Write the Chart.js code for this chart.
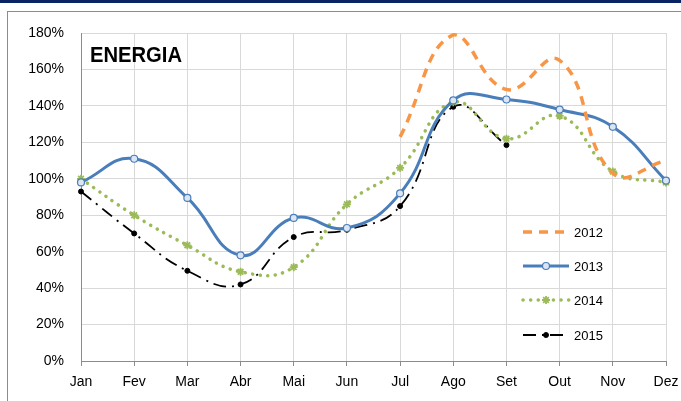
<!DOCTYPE html>
<html>
<head>
<meta charset="utf-8">
<script src="https://cdn.jsdelivr.net/npm/chart.js@4"></script>
<style>
  body { margin: 0; background: #fff; overflow: hidden; }
  #band { position: absolute; left: 0; top: 0; width: 681px; height: 3px; background: #0a2463; }
  #frame { position: absolute; left: 7px; top: 11px; width: 700px; height: 400px;
           border-left: 1px solid #8c8c8c; border-top: 1px solid #8c8c8c; }
  #energyChart { position: absolute; left: 0; top: 0; }
</style>
</head>
<body>
<div id="band"></div>
<div id="frame"></div>
<canvas id="energyChart" width="681" height="401"></canvas>
<script>
var months = ['Jan', 'Fev', 'Mar', 'Abr', 'Mai', 'Jun', 'Jul', 'Ago', 'Set', 'Out', 'Nov', 'Dez'];
var yTicks = [0, 20, 40, 60, 80, 100, 120, 140, 160, 180];

var v2012 = [null, null, null, null, null, null, 123, 179, 149, 165, 103, 110];
var v2013 = [98, 111, 89.5, 58, 78.5, 73, 92, 143, 143.5, 138, 128.5, 99];
var v2014 = [100, 80, 63.5, 49, 51.5, 86, 106, 142, 122, 134.5, 104, 98];
var v2015 = [93, 70, 49.5, 42, 68, 72, 85, 139.5, 118.5, null, null, null];

const colors = {
    y2012: '#f79646',
    y2013: '#4a7ebb',
    y2014: '#9bbb59',
    y2015: '#000000'
};

var labelFont = 'Liberation Sans';

// title + legend drawn inside the plot, like the spreadsheet chart
var overlay = {
    id: 'overlay',
    afterDraw: function(chart) {
        var c = chart.ctx;
        c.save();
        c.fillStyle = '#000';
        c.font = 'bold 22px ' + labelFont;
        c.textBaseline = 'alphabetic';
        c.textAlign = 'left';
        c.fillText('ENERGIA', 90, 62, 92);

        var rows = [232, 266, 300, 335];
        chart.data.datasets.forEach(function(ds, i) {
            var y = rows[i];
            c.save();
            c.strokeStyle = ds.borderColor;
            c.lineWidth = ds.borderWidth;
            c.lineCap = ds.borderCapStyle || 'butt';
            c.setLineDash(ds.borderDash || []);
            c.beginPath();
            c.moveTo(523, y);
            c.lineTo(569, y);
            c.stroke();
            c.restore();
            if (ds.pointRadius > 0) {
                c.fillStyle = ds.pointBackgroundColor;
                c.strokeStyle = ds.pointBorderColor;
                c.lineWidth = ds.pointBorderWidth;
                c.setLineDash([]);
                c.beginPath();
                if (ds.pointStyle === 'circle') {
                    c.arc(546, y, ds.pointRadius, 0, Math.PI * 2);
                    c.fill();
                    c.stroke();
                } else {
                    var r = ds.pointRadius;
                    for (var k = 0; k < 4; k++) {
                        var a = k * Math.PI / 4;
                        c.moveTo(546 - r * Math.cos(a), y - r * Math.sin(a));
                        c.lineTo(546 + r * Math.cos(a), y + r * Math.sin(a));
                    }
                    c.stroke();
                }
            }
            c.fillStyle = '#000';
            c.font = '13px ' + labelFont;
            c.textBaseline = 'middle';
            c.fillText(ds.label, 574, y + 1);
        });
        c.restore();
    }
};

var ctx = document.getElementById('energyChart').getContext('2d');

new Chart(ctx, {
    type: 'line',
    data: {
        labels: months,
        datasets: [
            {
                label: '2012',
                data: v2012,
                borderColor: colors.y2012,
                borderWidth: 3.5,
                borderDash: [9, 7],
                pointRadius: 0,
                tension: 0.45
            },
            {
                label: '2013',
                data: v2013,
                borderColor: colors.y2013,
                borderWidth: 3,
                pointStyle: 'circle',
                pointRadius: 3.5,
                pointBorderWidth: 1.2,
                pointBackgroundColor: '#dce6f2',
                pointBorderColor: colors.y2013,
                tension: 0.45
            },
            {
                label: '2014',
                data: v2014,
                borderColor: colors.y2014,
                borderWidth: 3.5,
                borderDash: [0.1, 7.5],
                borderCapStyle: 'round',
                pointStyle: 'star',
                pointRadius: 4,
                pointBorderWidth: 1.8,
                pointBackgroundColor: colors.y2014,
                pointBorderColor: colors.y2014,
                tension: 0.45
            },
            {
                label: '2015',
                data: v2015,
                borderColor: colors.y2015,
                borderWidth: 1.8,
                borderDash: [13, 6, 2, 6],
                pointStyle: 'circle',
                pointRadius: 2.5,
                pointBorderWidth: 1,
                pointBackgroundColor: '#000',
                pointBorderColor: '#000',
                tension: 0.45
            }
        ]
    },
    options: {
        responsive: false,
        animation: false,
        devicePixelRatio: 1,
        layout: {
            padding: { top: 33, right: 0, left: 0, bottom: 0 }
        },
        plugins: {
            legend: { display: false },
            tooltip: { enabled: false }
        },
        scales: {
            x: {
                offset: false,
                grid: {
                    color: '#d9d9d9',
                    tickColor: '#8c8c8c',
                    tickLength: 5
                },
                border: { color: '#8c8c8c', width: 1 },
                ticks: {
                    color: '#000',
                    padding: 8,
                    maxRotation: 0,
                    font: { family: labelFont, size: 14 }
                },
                afterFit: function(scale) {
                    scale.height = 40;
                    scale.paddingLeft = 0;
                    scale.paddingRight = 15;
                }
            },
            y: {
                min: 0,
                max: 180,
                afterBuildTicks: function(scale) {
                    scale.ticks = yTicks.map(function(v) { return { value: v }; });
                },
                grid: {
                    color: '#d9d9d9',
                    drawTicks: false
                },
                border: { color: '#8c8c8c', width: 1 },
                ticks: {
                    color: '#000',
                    padding: 17,
                    font: { family: labelFont, size: 14 },
                    callback: function(v) { return v + '%'; }
                },
                afterFit: function(scale) { scale.width = 81; }
            }
        }
    },
    plugins: [overlay]
});
</script>
</body>
</html>
